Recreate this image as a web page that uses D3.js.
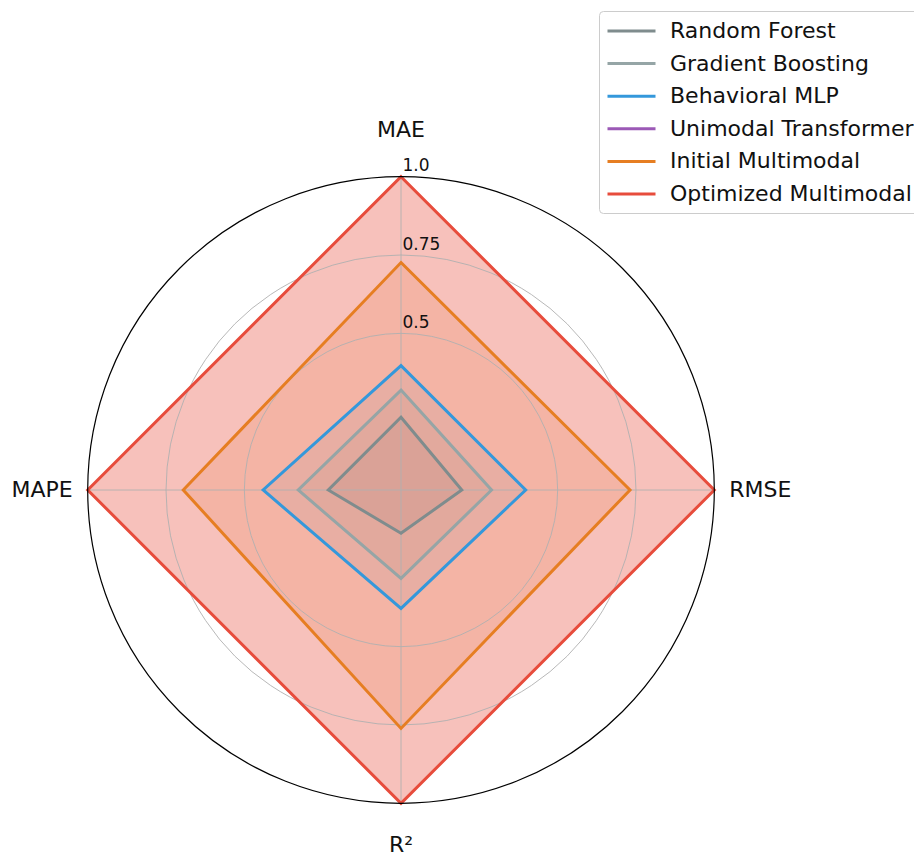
<!DOCTYPE html>
<html>
<head>
<meta charset="utf-8">
<script src="https://cdn.jsdelivr.net/npm/d3@7"></script>
<style>
  body { margin: 0; background: #fff; }
  svg { display: block; font-family: "DejaVu Sans", sans-serif; }
</style>
</head>
<body>
<svg id="chart" width="914" height="857"></svg>
<script>
// Metric axes, clockwise from the top
const metrics = ["MAE", "RMSE", "R²", "MAPE"];

// Model names, in legend order
const models = [
  "Random Forest",
  "Gradient Boosting",
  "Behavioral MLP",
  "Unimodal Transformer",
  "Initial Multimodal",
  "Optimized Multimodal"
];

// Normalized scores per metric (MAE, RMSE, R², MAPE)
const randomForest        = [0.232, 0.194, 0.138, 0.232];
const gradientBoosting    = [0.319, 0.289, 0.282, 0.328];
const behavioralMLP       = [0.397, 0.398, 0.378, 0.440];
const unimodalTransformer = [null, null, null, null];
const initialMultimodal   = [0.726, 0.731, 0.761, 0.695];
const optimizedMultimodal = [1.0, 1.0, 1.0, 1.0];

// Radial tick values and labels
const radialTicks = [0.5, 0.75, 1.0];
const radialTickLabels = ["0.5", "0.75", "1.0"];

const seriesValues = [randomForest, gradientBoosting, behavioralMLP,
                      unimodalTransformer, initialMultimodal, optimizedMultimodal];
const colors = ["#7f8c8d", "#95a5a6", "#3498db", "#9b59b6", "#e67e22", "#e74c3c"];
const fillOpacity = [0.12, 0.12, 0.1, 0.1, 0.15, 0.35];

const svg = d3.select("#chart");
const cx = 401, cy = 490, R = 313.3;

const r = d3.scaleLinear().domain([0, 1]).range([0, R]);
const angle = d3.scalePoint().domain(metrics).range([0, 2 * Math.PI * (metrics.length - 1) / metrics.length]);

const g = svg.append("g").attr("transform", `translate(${cx},${cy})`);

const radial = d3.lineRadial()
  .angle((d, i) => angle(metrics[i]))
  .radius(d => r(d))
  .curve(d3.curveLinearClosed);

const drawn = seriesValues.map((vals, i) => ({ vals, i }))
  .filter(s => s.vals.every(v => v !== null));

// fills
g.append("g").selectAll("path").data(drawn).join("path")
  .attr("d", s => radial(s.vals))
  .attr("fill", s => colors[s.i])
  .attr("fill-opacity", s => fillOpacity[s.i])
  .attr("stroke", "none");

// grid: circles and spokes
const grid = g.append("g").attr("fill", "none").attr("stroke", "#b0b0b0").attr("stroke-width", 0.9);
grid.selectAll("circle").data(radialTicks.filter(t => t < 1)).join("circle")
  .attr("r", d => r(d));
grid.selectAll("line").data(metrics).join("line")
  .attr("x1", 0).attr("y1", 0)
  .attr("x2", d => r(1) * Math.sin(angle(d)))
  .attr("y2", d => -r(1) * Math.cos(angle(d)));

// series outlines
g.append("g").selectAll("path").data(drawn).join("path")
  .attr("d", s => radial(s.vals))
  .attr("fill", "none")
  .attr("stroke", s => colors[s.i])
  .attr("stroke-width", 3)
  .attr("stroke-linejoin", "miter");

// outer frame
g.append("circle").attr("r", r(1)).attr("fill", "none").attr("stroke", "#000").attr("stroke-width", 1.2);

// radial tick labels
g.append("g").selectAll("text").data(radialTicks).join("text")
  .attr("x", 1.5)
  .attr("y", d => -r(d) - 5.5)
  .attr("font-size", 17)
  .attr("fill", "#111")
  .text((d, i) => radialTickLabels[i]);

// metric labels
const labelPad = 15;
const labels = g.append("g").attr("font-size", 22).attr("fill", "#111");
metrics.forEach(m => {
  const a = angle(m);
  const s = Math.round(Math.sin(a)), c = Math.round(Math.cos(a));
  let x, y, anchor;
  if (s === 0) {
    x = 0; anchor = "middle";
    y = c > 0 ? -(r(1) + 39.4) : r(1) + 48.5;
  } else {
    x = s * (r(1) + labelPad); anchor = s > 0 ? "start" : "end";
    y = 7;
  }
  labels.append("text").attr("x", x).attr("y", y).attr("text-anchor", anchor).text(m);
});

// legend
const legend = svg.append("g").attr("transform", "translate(599.5,11.5)");
legend.append("rect")
  .attr("width", 340).attr("height", 202)
  .attr("rx", 4)
  .attr("fill", "#fff").attr("fill-opacity", 0.8)
  .attr("stroke", "#cccccc").attr("stroke-width", 1);
const rowH = 32.6;
const items = legend.selectAll("g.item").data(models).join("g")
  .attr("class", "item")
  .attr("transform", (d, i) => `translate(0,${19.5 + i * rowH})`);
items.append("line")
  .attr("x1", 8).attr("x2", 56).attr("y1", 0).attr("y2", 0)
  .attr("stroke", (d, i) => colors[i]).attr("stroke-width", 3);
items.append("text")
  .attr("x", 70.5).attr("y", 7)
  .attr("font-size", 22).attr("fill", "#111")
  .text(d => d);
</script>
</body>
</html>
